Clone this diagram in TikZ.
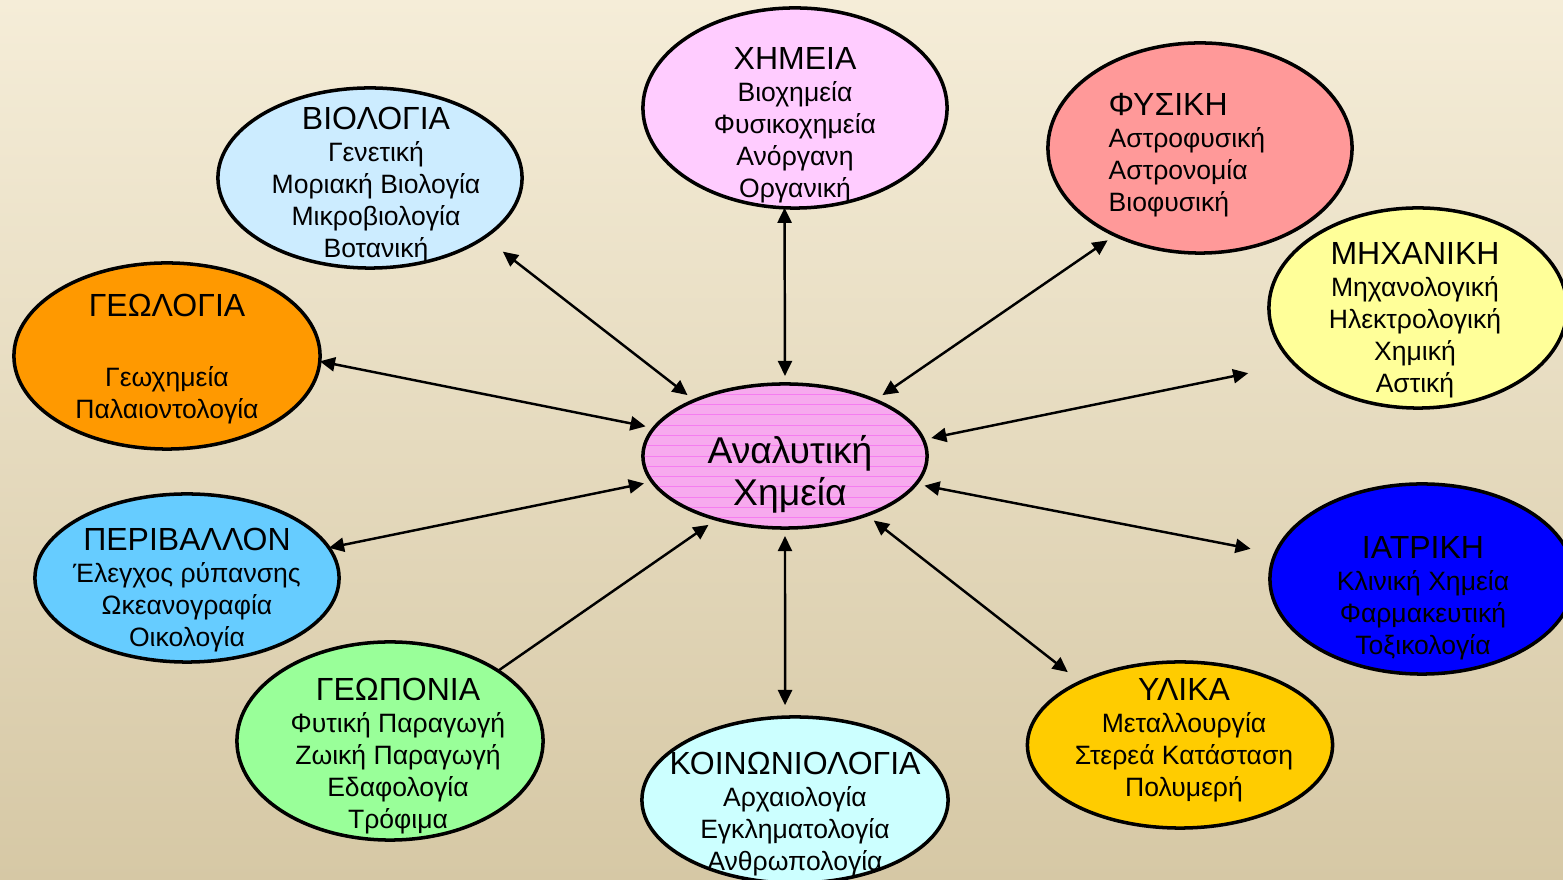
\documentclass[tikz,border=0pt]{standalone}
\usepackage{fontspec}
\setmainfont{Liberation Sans}
\usepackage{tikz}
\usetikzlibrary{shapes.geometric,arrows.meta}
\definecolor{bgtop}{RGB}{245,237,216}
\definecolor{bgmid}{RGB}{237,229,205}
\definecolor{bgbot}{RGB}{214,200,165}
\definecolor{chemcolor}{RGB}{255,204,255}
\definecolor{biocolor}{RGB}{204,236,255}
\definecolor{physcolor}{RGB}{255,153,153}
\definecolor{mechcolor}{RGB}{255,255,153}
\definecolor{geolcolor}{RGB}{255,153,0}
\definecolor{envcolor}{RGB}{102,204,255}
\definecolor{agricolor}{RGB}{153,255,153}
\definecolor{soccolor}{RGB}{204,255,255}
\definecolor{matcolor}{RGB}{255,204,0}
\definecolor{medcolor}{RGB}{0,0,255}
\definecolor{anacolor}{RGB}{247,170,238}
\definecolor{hatchcolor}{RGB}{245,125,240}
\newcommand{\fieldtitle}[1]{{\fontsize{9.1}{9.1}\selectfont #1}}

\begin{document}
\begin{tikzpicture}[x=0.01cm, y=-0.01cm,
    field/.style={ellipse, draw, line width=1pt, inner sep=0pt, outer sep=0pt},
    fieldtext/.style={align=center, inner sep=0pt, font=\fontsize{7.55}{9.1}\selectfont},
    link/.style={line width=0.7pt},
    >={Triangle[length=4.3pt,width=4pt]}]
    % Background
    \useasboundingbox (0,0) rectangle (1563,880);
    \clip (0,0) rectangle (1563,880);
    \shade[top color=bgtop, middle color=bgmid, bottom color=bgbot] (0,0) rectangle (1563,880);

    % Fields
    \node[field, fill=chemcolor, minimum width=3.04cm, minimum height=2cm] (chem) at (795,108) {};
    \node[field, fill=biocolor, minimum width=3.04cm, minimum height=1.8cm, outer sep=0.23cm] (bio) at (370,178) {};
    \node[field, fill=physcolor, minimum width=3.04cm, minimum height=2.1cm, outer sep=0.08cm] (phys) at (1200,148) {};
    \node[field, fill=mechcolor, minimum width=2.98cm, minimum height=2cm, outer sep=0.42cm] (mech) at (1418,308) {};
    \node[field, fill=geolcolor, minimum width=3.06cm, minimum height=1.86cm] (geol) at (167,356) {};
    \node[field, fill=envcolor, minimum width=3.04cm, minimum height=1.68cm] (env) at (187,578) {};
    \node[field, fill=agricolor, minimum width=3.06cm, minimum height=1.98cm] (agri) at (390,741) {};
    \node[field, fill=soccolor, minimum width=3.06cm, minimum height=1.66cm, outer sep=0.12cm] (soc) at (795,800) {};
    \node[field, fill=matcolor, minimum width=3.05cm, minimum height=1.66cm, outer sep=0.15cm] (mat) at (1180,745) {};
    \node[field, fill=medcolor, minimum width=3.04cm, minimum height=1.9cm, outer sep=0.25cm] (med) at (1422,579) {};
    \node[field, fill=anacolor, minimum width=2.84cm, minimum height=1.44cm, outer sep=0.08cm,
      path picture={
        \foreach \k in {-8,...,8}
          \draw[hatchcolor, line width=0.25pt] ([yshift=\k*2.93pt]path picture bounding box.west)
            -- ([yshift=\k*2.93pt]path picture bounding box.east);
      }] (ana) at (785,456) {};

    % Texts
    \node[fieldtext] (chem-t) at (795,125) {\fieldtitle{ΧΗΜΕΙΑ}\\Βιοχημεία\\Φυσικοχημεία\\Ανόργανη\\Οργανική};
    \node[fieldtext] (bio-t) at (376,185) {\fieldtitle{ΒΙΟΛΟΓΙΑ}\\Γενετική\\Μοριακή Βιολογία\\Μικροβιολογία\\Βοτανική};
    \node[fieldtext, align=left, anchor=west] (phys-t) at (1108,155) {\fieldtitle{ΦΥΣΙΚΗ}\\Αστροφυσική\\Αστρονομία\\Βιοφυσική};
    \node[fieldtext] (mech-t) at (1415,320) {\fieldtitle{ΜΗΧΑΝΙΚΗ}\\Μηχανολογική\\Ηλεκτρολογική\\Χημική\\Αστική};
    \node[fieldtext] (geol-t) at (167,359) {\fieldtitle{ΓΕΩΛΟΓΙΑ}\\[10.8pt]Γεωχημεία\\Παλαιοντολογία};
    \node[fieldtext] (env-t) at (187,590) {\fieldtitle{ΠΕΡΙΒΑΛΛΟΝ}\\Έλεγχος ρύπανσης\\Ωκεανογραφία\\Οικολογία};
    \node[fieldtext] (agri-t) at (398,756) {\fieldtitle{ΓΕΩΠΟΝΙΑ}\\Φυτική Παραγωγή\\Ζωική Παραγωγή\\Εδαφολογία\\Τρόφιμα};
    \node[fieldtext] (soc-t) at (795,814) {\fieldtitle{ΚΟΙΝΩΝΙΟΛΟΓΙΑ}\\Αρχαιολογία\\Εγκληματολογία\\Ανθρωπολογία};
    \node[fieldtext] (mat-t) at (1184,740) {\fieldtitle{ΥΛΙΚΑ}\\Μεταλλουργία\\Στερεά Κατάσταση\\Πολυμερή};
    \node[fieldtext] (med-t) at (1423,598) {\fieldtitle{ΙΑΤΡΙΚΗ}\\Κλινική Χημεία\\Φαρμακευτική\\Τοξικολογία};
    \node[align=center, inner sep=0pt, font=\fontsize{10.6}{11.9}\selectfont] (ana-t) at (790,474) {Αναλυτική\\Χημεία};

    % Arrows
    \foreach \from/\to in {bio.-29/ana.148, chem.-96/ana.90, phys.-135/ana.32, mech.-159/ana.7,
        geol.-2/ana.168, env.12/ana.-169, soc.96/ana.-90, mat.147/ana.-36, med.170/ana.-12}
      \draw[link, <->] (\from) -- (\to);
    \draw[link, ->] (agri.33) -- (ana.-138);
\end{tikzpicture}
\end{document}
